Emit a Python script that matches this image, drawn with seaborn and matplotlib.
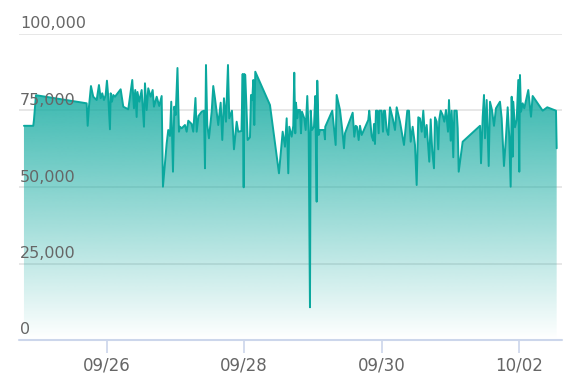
import numpy as np
import pandas as pd
import matplotlib
matplotlib.use("Agg")
import matplotlib.pyplot as plt
import matplotlib.dates as mdates
import seaborn as sns

# hours relative to 2023-09-26 00:00
hours = [-28.87, -25.62, -25.38, -24.68, -6.98, -6.63, -6.18, -5.48, -4.68, -3.49,
         -2.69, -2.09, -1.54, -0.94, -0.35, 0.10, 0.56, 1.15, 1.40, 1.85,
         2.30, 2.90, 4.89, 5.80, 7.54, 8.94, 9.53, 9.98, 10.47, 10.75,
         11.38, 12.22, 13.02, 13.37, 13.96, 14.52, 15.36, 16.06, 16.51, 17.46,
         18.36, 19.20, 19.65, 20.95, 21.50, 22.10, 22.55, 23.15, 23.60, 24.09,
         24.72, 25.24, 25.59, 26.18, 27.33, 27.93, 28.49, 29.67, 30.23, 31.00,
         31.42, 32.05, 33.16, 33.97, 34.32, 34.67, 35.12, 35.71, 36.66, 37.21,
         37.81, 38.96, 39.80, 40.36, 40.95, 41.65, 42.35, 42.80, 43.74, 44.44,
         45.38, 45.94, 47.06, 47.48, 47.83, 48.04, 48.38, 49.22, 50.03, 50.38,
         50.83, 51.18, 51.53, 51.88, 57.01, 60.15, 61.44, 62.25, 62.84, 63.40,
         63.75, 64.58, 65.14, 65.49, 65.84, 66.08, 66.54, 66.89, 67.48, 67.83,
         68.18, 68.98, 69.47, 70.03, 70.52, 70.97, 71.22, 71.67, 72.37, 72.82,
         73.31, 73.52, 74.01, 74.46, 75.86, 76.21, 76.31, 78.76, 79.94, 80.29,
         81.45, 82.25, 82.84, 83.19, 85.88, 86.44, 86.93, 87.38, 87.97, 88.43,
         89.02, 91.32, 91.67, 92.51, 93.07, 93.31, 93.66, 94.01, 94.47, 94.95,
         95.16, 96.00, 96.46, 96.81, 97.15, 97.75, 98.31, 98.90, 99.85, 100.65,
         101.24, 102.39, 103.79, 104.94, 105.53, 106.13, 106.82, 107.63, 108.22, 108.78,
         109.37, 109.97, 110.53, 111.12, 111.71, 112.62, 113.11, 113.67, 114.26, 114.61,
         115.21, 115.76, 116.11, 116.60, 117.30, 117.86, 118.45, 119.15, 119.50, 120.09,
         120.44, 121.00, 121.35, 122.19, 122.54, 122.89, 124.28, 130.33, 130.68, 131.27,
         131.72, 132.07, 132.66, 133.36, 133.81, 134.51, 135.21, 135.90, 137.30, 137.89,
         138.69, 139.39, 139.99, 140.54, 141.03, 141.38, 141.73, 141.94, 142.53, 143.13,
         143.69, 144.04, 144.28, 144.63, 145.22, 145.78, 147.18, 148.12, 148.71, 152.20,
         153.81, 156.85, 157.09]

values = [70000, 70000, 71900, 80000, 77350, 70000, 76250, 83000, 79500, 78430,
          83330, 79000, 80620, 78430, 80070, 84740, 79500, 68860, 80620, 77880,
          80070, 79500, 81930, 76250, 75390, 84970, 75720, 81700, 72880, 81050,
          77880, 81700, 69700, 83890, 75160, 82260, 79500, 81700, 76250, 79500,
          76470, 79740, 50100, 64280, 68630, 66670, 77880, 55000, 76250, 73530,
          88890, 68070, 69700, 69180, 70260, 68070, 71670, 70590, 68070, 79090,
          68070, 73200, 74610, 74940, 56110, 89870, 70260, 65920, 74610, 83000,
          79000, 70260, 77550, 65360, 79000, 71340, 89870, 72450, 74940, 62320,
          71340, 68070, 68300, 86930, 49900, 86930, 86600, 65360, 66240, 80070,
          78430, 84970, 70260, 87680, 76800, 54480, 68070, 63170, 72450, 54480,
          69700, 66440, 70000, 87350, 67550, 77550, 72450, 75160, 75160, 67550,
          74610, 72450, 68630, 79740, 67550, 10690, 74940, 68630, 69700, 79740,
          45200, 84740, 67000, 68630, 68630, 65590, 69700, 74940, 63730, 80070,
          75160, 68630, 62650, 67550, 74280, 66440, 70000, 69700, 65360, 70000,
          67000, 71900, 74940, 66670, 65130, 70590, 64050, 74940, 74940, 67550,
          74940, 74940, 68070, 74940, 74940, 68630, 67000, 76050, 72450, 68630,
          76050, 71340, 63730, 74940, 74940, 64800, 69700, 63730, 50650, 72780,
          72450, 68070, 74940, 66240, 70260, 58270, 72120, 61540, 56110, 72780,
          71340, 62320, 72120, 74940, 73530, 71340, 75160, 68070, 78430, 65130,
          74940, 59710, 74940, 74940, 69180, 55000, 64800, 70000, 57750, 72970,
          80070, 65920, 78430, 56860, 77880, 75160, 70000, 75720, 77880, 72450,
          56860, 66240, 76050, 66440, 50100, 79500, 59900, 77880, 69510, 71900,
          84970, 55000, 86600, 74610, 77350, 75720, 81700, 72970, 79740, 74940,
          76050, 74940, 62650]

y_ticks = [0, 25000, 50000, 75000, 100000]
y_tick_labels = ["0", "25,000", "50,000", "75,000", "100,000"]
x_ticks = ["2023-09-26", "2023-09-28", "2023-09-30", "2023-10-02"]
x_tick_labels = ["09/26", "09/28", "09/30", "10/02"]

base = pd.Timestamp("2023-09-26")
df = pd.DataFrame({
    "time": base + pd.to_timedelta(hours, unit="h"),
    "value": values,
})

sns.set_style("white")
plt.rcParams["font.family"] = ["DejaVu Sans"]

W, H = 574, 391
fig = plt.figure(figsize=(W / 100, H / 100), dpi=100)
ax = fig.add_axes([19 / W, 1 - 340 / H, (562 - 19) / W, (340 - 34) / H])

line_color = "#0ba89e"
sns.lineplot(data=df, x="time", y="value", ax=ax, color=line_color,
             linewidth=1.4, zorder=4)

# gradient fill clipped to the area under the line
poly = ax.fill_between(df["time"], df["value"], 0, facecolor="none",
                       edgecolor="none")
xmin = mdates.date2num(base + pd.Timedelta(hours=-30.6))
xmax = mdates.date2num(base + pd.Timedelta(hours=158.95))
grad = np.linspace(0, 1, 256)
rgb = np.array(matplotlib.colors.to_rgb("#17aca2"))
img = np.zeros((256, 1, 4))
img[:, 0, :3] = rgb
img[:, 0, 3] = grad * 0.95
im = ax.imshow(img, extent=[xmin, xmax, 0, 90000], origin="lower",
               aspect="auto", zorder=2, interpolation="bicubic")
path = poly.get_paths()[0]
im.set_clip_path(path, transform=ax.transData)

ax.set_xlim(xmin, xmax)
ax.set_ylim(0, 100000)

# grid lines
for yv in y_ticks[1:]:
    ax.axhline(yv, color="#e3e3e3", linewidth=1.2, zorder=1)
ax.axhline(0, color="#ccd6eb", linewidth=1.5, zorder=5, clip_on=False)

for s in ax.spines.values():
    s.set_visible(False)

ax.set_yticks([])
for yv, lab in zip(y_ticks, y_tick_labels):
    ax.annotate(lab, xy=(0, yv), xycoords=("axes fraction", "data"),
                xytext=(1, 2.5), textcoords="offset pixels",
                ha="left", va="bottom", fontsize=11.5, color="#666666",
                zorder=6)

ax.set_xticks([mdates.date2num(pd.Timestamp(t)) for t in x_ticks])
ax.set_xticklabels(x_tick_labels)
ax.tick_params(axis="x", length=9, width=1.2, color="#ccd6eb",
               labelsize=12, labelcolor="#666666", pad=3, direction="out",
               bottom=True)
ax.set_xlabel("")
ax.set_ylabel("")
ax.grid(False)

fig.savefig("out.png", dpi=100)
